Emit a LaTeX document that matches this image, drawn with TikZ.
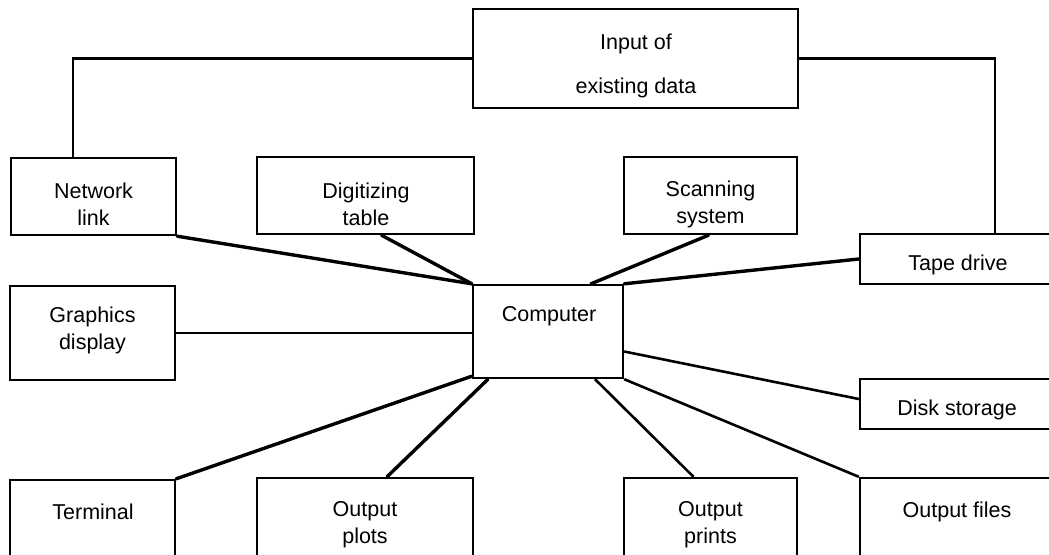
\documentclass[tikz,border=0pt]{standalone}
\usepackage{fontspec}
\setmainfont{Liberation Sans}
\begin{document}
\begin{tikzpicture}[x=1pt,y=-1pt,
  box/.style={draw=black, line width=2.4pt, inner sep=0pt, fill=none},
  txt/.style={inner sep=0pt, align=center, font=\fontsize{21.5}{27}\selectfont},
  thick link/.style={line width=3.4pt, line cap=round},
  thin link/.style={line width=2.6pt}]
\useasboundingbox (0,0) rectangle (1049,554);
% boxes (centre, size)
\node[box, minimum width=325pt, minimum height=99pt] (input) at (635.5,58.5) {};
\node[box, minimum width=165pt, minimum height=77pt] (net) at (93.5,196.5) {};
\node[box, minimum width=217pt, minimum height=77pt] (dig) at (365.5,195.5) {};
\node[box, minimum width=173pt, minimum height=77pt] (scan) at (710.5,195.5) {};
\node[box, minimum width=200pt, minimum height=50pt] (tape) at (960,259) {};
\node[box, minimum width=165pt, minimum height=94pt] (graph) at (92.5,333) {};
\node[box, minimum width=150pt, minimum height=93pt] (comp) at (548,331.5) {};
\node[box, minimum width=200pt, minimum height=50pt] (disk) at (960,404) {};
\node[box, minimum width=165pt, minimum height=90pt] (term) at (92.5,525) {};
\node[box, minimum width=216pt, minimum height=92pt] (plots) at (365,524) {};
\node[box, minimum width=173pt, minimum height=92pt] (prints) at (710.5,524) {};
\node[box, minimum width=200pt, minimum height=92pt] (files) at (960,524) {};
% labels
\node[txt] (input-a) at (636,44) {Input of};
\node[txt] (input-b) at (636,88) {existing data};
\node[txt] (net-t) at (93.5,204) {Network\\link};
\node[txt] (dig-t) at (366,204) {Digitizing\\table};
\node[txt] (scan-t) at (710.5,204) {Scanning\\system};
\node[txt] (tape-t) at (958,265) {Tape drive};
\node[txt] (graph-t) at (92.5,330) {Graphics\\display};
\node[txt] (comp-t) at (549,316) {Computer};
\node[txt] (disk-t) at (957,410) {Disk storage};
\node[txt] (term-t) at (93,512) {Terminal};
\node[txt] (plots-t) at (365,525) {Output\\plots};
\node[txt] (prints-t) at (710.5,525) {Output\\prints};
\node[txt] (files-t) at (957,512) {Output files};
% connectors
\draw[thick link] (net.south east) -- (comp.north west);
\draw[thick link] ([xshift=16pt]dig.south) -- (comp.north west);
\draw[thick link] ([xshift=-2pt]scan.south) -- ([xshift=43pt]comp.north);
\draw[thick link] (tape.west) -- (comp.north east);
\draw[thin link] (graph.east) -- (graph.east -| comp.west);
\draw[thin link] ([yshift=-20pt]comp.east) -- ([yshift=5pt]disk.west);
\draw[thin link] (comp.south east) -- (files.north west);
\draw[thin link] ([xshift=47pt]comp.south) -- ([xshift=-17pt]prints.north);
\draw[thick link] ([xshift=-60pt]comp.south) -- ([xshift=22pt]plots.north);
\draw[thick link] (term.north east) -- ([yshift=3pt]comp.south west);
\draw[thin link] ([xshift=-20.5pt]net.north) |- (input.west);
\draw[thin link] (input.east) -| ([xshift=35pt]tape.north);
\end{tikzpicture}
\end{document}
